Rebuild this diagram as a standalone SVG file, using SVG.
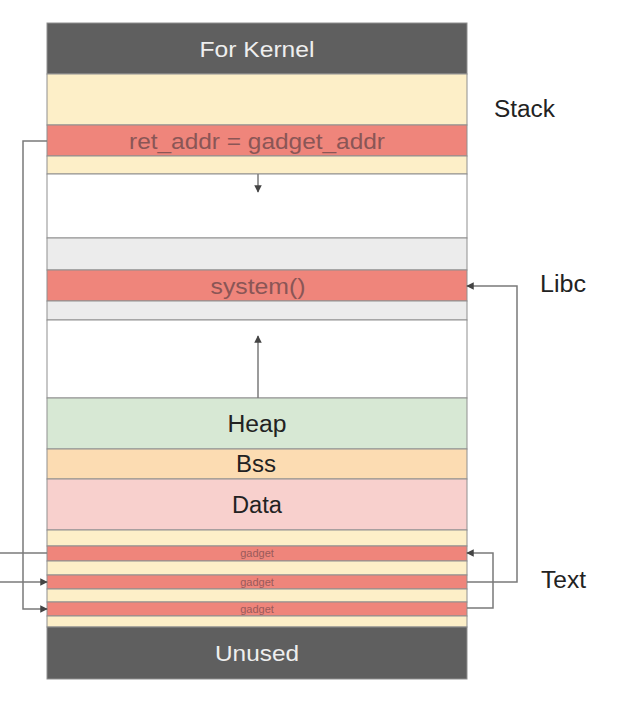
<svg xmlns="http://www.w3.org/2000/svg" width="621" height="707" viewBox="0 0 621 707">
<style>
.row{stroke:#8f8f8f;stroke-width:1}
.dark{fill:#5f5f5f}
.cream{fill:#fdefc8}
.red{fill:#ef857b}
.gray{fill:#ececec}
.white{fill:#ffffff}
.t{font-family:"Liberation Sans",Arial,sans-serif;text-anchor:middle;dominant-baseline:central}
.lbl{font-family:"Liberation Sans",Arial,sans-serif;font-size:23px;fill:#222}
.conn{fill:none;stroke:#7a7a7a;stroke-width:1.5}
</style>
<defs>
<marker id="ah" viewBox="0 0 10 10" refX="9" refY="5" markerWidth="5" markerHeight="5" orient="auto-start-reverse">
<path d="M0,0 L10,5 L0,10 z" fill="#444"/>
</marker>
</defs>
<rect width="621" height="707" fill="#ffffff"/>
<g id="kernel"><rect class="dark row" x="47" y="23" width="420" height="51"/><text class="t" x="257" y="49" font-size="22" fill="#eeeeee" textLength="115" lengthAdjust="spacingAndGlyphs">For Kernel</text></g>
<g id="stack"><rect class="cream row" x="47" y="74" width="420" height="51"/></g>
<g id="ret_addr"><rect class="red row" x="47" y="125" width="420" height="31"/><text class="t" x="257" y="141" font-size="22" fill="#8a5656" textLength="256" lengthAdjust="spacingAndGlyphs">ret_addr = gadget_addr</text></g>
<g id="stack-low"><rect class="cream row" x="47" y="156" width="420" height="18"/></g>
<g id="free-top"><rect class="white row" x="47" y="174" width="420" height="64"/></g>
<g id="libc-top"><rect class="gray row" x="47" y="238" width="420" height="32"/></g>
<g id="system"><rect class="red row" x="47" y="270" width="420" height="31"/><text class="t" x="258" y="286" font-size="22" fill="#8a5656" textLength="95" lengthAdjust="spacingAndGlyphs">system()</text></g>
<g id="libc-low"><rect class="gray row" x="47" y="301" width="420" height="19"/></g>
<g id="free-mid"><rect class="white row" x="47" y="320" width="420" height="78"/></g>
<g id="heap"><rect class="row" fill="#d7e8d4" x="47" y="398" width="420" height="51"/><text class="t" x="257" y="424" font-size="23" fill="#222" textLength="59" lengthAdjust="spacingAndGlyphs">Heap</text></g>
<g id="bss"><rect class="row" fill="#fcdcb2" x="47" y="449" width="420" height="30"/><text class="t" x="256" y="464" font-size="23" fill="#222" textLength="40" lengthAdjust="spacingAndGlyphs">Bss</text></g>
<g id="data"><rect class="row" fill="#f8d0cd" x="47" y="479" width="420" height="51"/><text class="t" x="257" y="505" font-size="23" fill="#222" textLength="50" lengthAdjust="spacingAndGlyphs">Data</text></g>
<g id="text-top"><rect class="cream row" x="47" y="530" width="420" height="16"/></g>
<g id="gadget1"><rect class="red row" x="47" y="546" width="420" height="15"/><text class="t" x="257" y="553" font-size="11" fill="#9a5a5a">gadget</text></g>
<g id="text-mid1"><rect class="cream row" x="47" y="561" width="420" height="14"/></g>
<g id="gadget2"><rect class="red row" x="47" y="575" width="420" height="14"/><text class="t" x="257" y="582" font-size="11" fill="#9a5a5a">gadget</text></g>
<g id="text-mid2"><rect class="cream row" x="47" y="589" width="420" height="13"/></g>
<g id="gadget3"><rect class="red row" x="47" y="602" width="420" height="14"/><text class="t" x="257" y="609" font-size="11" fill="#9a5a5a">gadget</text></g>
<g id="text-low"><rect class="cream row" x="47" y="616" width="420" height="11"/></g>
<g id="unused"><rect class="dark row" x="47" y="627" width="420" height="52"/><text class="t" x="257" y="653" font-size="22" fill="#eeeeee" textLength="84" lengthAdjust="spacingAndGlyphs">Unused</text></g>
<g id="labels">
<text class="lbl" x="494" y="117" textLength="61" lengthAdjust="spacingAndGlyphs">Stack</text>
<text class="lbl" x="540" y="292" textLength="46" lengthAdjust="spacingAndGlyphs">Libc</text>
<text class="lbl" x="541" y="588" textLength="45" lengthAdjust="spacingAndGlyphs">Text</text>
</g>
<g id="connectors">
<path class="conn" d="M258,174 V192" marker-end="url(#ah)"/>
<path class="conn" d="M258,398 V336" marker-end="url(#ah)"/>
<path class="conn" d="M47,141 H23 V609 H47" marker-end="url(#ah)"/>
<path class="conn" d="M0,553 H47"/>
<path class="conn" d="M0,582 H47" marker-end="url(#ah)"/>
<path class="conn" d="M467,582 H517 V286 H467" marker-end="url(#ah)"/>
<path class="conn" d="M467,608 H493 V553 H467" marker-end="url(#ah)"/>
</g>
</svg>
